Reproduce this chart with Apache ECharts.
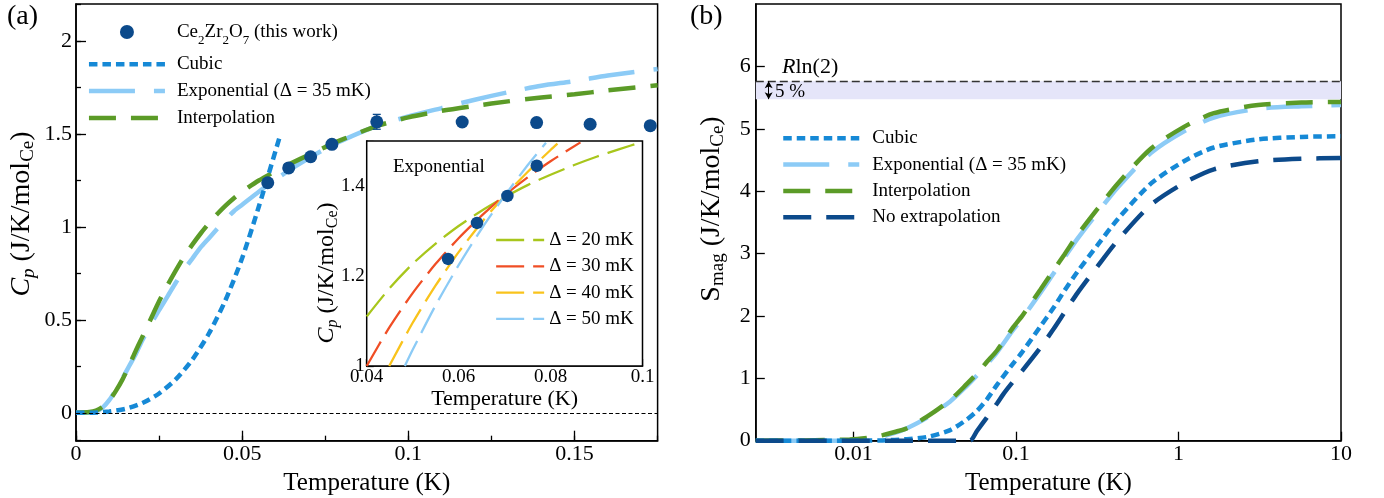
<!DOCTYPE html>
<html><head><meta charset="utf-8">
<script src="https://cdn.jsdelivr.net/npm/echarts@6/dist/echarts.min.js"></script>
<style>html,body{margin:0;padding:0;background:#fff}#c{width:1384px;height:498px}</style>
</head><body><div id="c"></div>
<script>
// ---------- Panel (a): measured heat capacity ----------
const dataT = [0.0577, 0.0640, 0.0706, 0.0770, 0.0905, 0.1162, 0.1386, 0.1547, 0.1728];
const dataC = [1.238, 1.318, 1.378, 1.445, 1.566, 1.565, 1.562, 1.553, 1.545];
const dataErr = [0.02, 0.02, 0.02, 0.02, 0.04, 0.02, 0.02, 0.02, 0.02];

// ---------- Panel (a): extrapolations ----------
const cubicT = [0, 0.005, 0.01, 0.015, 0.02, 0.025, 0.03, 0.035, 0.04, 0.045, 0.05, 0.055, 0.0612];
const cubicC = [0, 0.001, 0.007, 0.022, 0.053, 0.104, 0.18, 0.286, 0.427, 0.607, 0.833, 1.109, 1.48];

const curveT = [0, 0.004, 0.006, 0.008, 0.010, 0.012, 0.014, 0.016, 0.018, 0.020, 0.0225, 0.025, 0.0275, 0.030, 0.0325, 0.035, 0.0375, 0.040, 0.0425, 0.045, 0.0475, 0.050, 0.055, 0.060, 0.065, 0.070, 0.075, 0.080, 0.090, 0.100, 0.110, 0.120, 0.130, 0.140, 0.150, 0.160, 0.175];
const expC = [0, 0.0003, 0.007, 0.028, 0.068, 0.124, 0.186, 0.252, 0.317, 0.392, 0.475, 0.553, 0.625, 0.70, 0.77, 0.83, 0.89, 0.94, 0.99, 1.04, 1.085, 1.12, 1.19, 1.255, 1.315, 1.37, 1.42, 1.465, 1.54, 1.595, 1.64, 1.685, 1.725, 1.76, 1.785, 1.815, 1.85];
const interpC = [0, 0.004, 0.012, 0.032, 0.065, 0.118, 0.18, 0.255, 0.335, 0.41, 0.505, 0.60, 0.685, 0.765, 0.84, 0.905, 0.965, 1.02, 1.07, 1.115, 1.155, 1.19, 1.25, 1.30, 1.345, 1.388, 1.43, 1.47, 1.54, 1.59, 1.625, 1.652, 1.676, 1.697, 1.714, 1.735, 1.763];

// ---------- Inset: exponential fits ----------
const t20 = [0.040, 0.045, 0.050, 0.055, 0.060, 0.065, 0.070, 0.075, 0.080, 0.085, 0.090, 0.095, 0.100];
const c20 = [1.110, 1.173, 1.227, 1.272, 1.311, 1.345, 1.375, 1.402, 1.425, 1.446, 1.465, 1.482, 1.498];
const t30 = [0.040, 0.045, 0.050, 0.055, 0.060, 0.065, 0.070, 0.075, 0.080, 0.0865];
const c30 = [1.000, 1.087, 1.162, 1.227, 1.284, 1.334, 1.379, 1.419, 1.455, 1.497];
const t40 = [0.0449, 0.050, 0.055, 0.060, 0.065, 0.070, 0.075, 0.080, 0.0815];
const c40 = [1.000, 1.096, 1.179, 1.253, 1.319, 1.378, 1.431, 1.480, 1.494];
const t50 = [0.0483, 0.050, 0.055, 0.060, 0.065, 0.070, 0.075, 0.0790];
const c50 = [1.000, 1.036, 1.135, 1.224, 1.305, 1.378, 1.446, 1.496];

// ---------- Panel (b): magnetic entropy ----------
const bT = [0.0025, 0.005, 0.00946, 0.0126, 0.0151, 0.0179, 0.0213, 0.0283, 0.0393, 0.0498, 0.0576, 0.066, 0.0765, 0.0961, 0.109, 0.141, 0.170, 0.199, 0.239, 0.318, 0.422, 0.675, 1.08, 1.65, 3.09, 5.70, 10];
const bInterp = [0, 0.005, 0.02, 0.05, 0.09, 0.14, 0.2, 0.385, 0.65, 0.91, 1.08, 1.26, 1.45, 1.82, 2.0, 2.42, 2.73, 2.99, 3.3, 3.72, 4.12, 4.68, 5.03, 5.25, 5.38, 5.42, 5.43];
const bExp = [0, 0, 0.005, 0.03, 0.07, 0.125, 0.2, 0.37, 0.63, 0.88, 1.05, 1.22, 1.42, 1.78, 1.96, 2.37, 2.68, 2.94, 3.24, 3.66, 4.06, 4.61, 4.96, 5.18, 5.32, 5.36, 5.38];
const bCubic = [0, 0, 0, 0.002, 0.005, 0.012, 0.025, 0.06, 0.17, 0.34, 0.48, 0.66, 0.9, 1.24, 1.42, 1.83, 2.13, 2.41, 2.71, 3.14, 3.55, 4.12, 4.48, 4.70, 4.83, 4.87, 4.88];
const noExtT = [0.0025, 0.045, 0.052, 0.0576, 0.066, 0.0765, 0.0837, 0.0961, 0.109, 0.141, 0.170, 0.199, 0.239, 0.318, 0.422, 0.675, 1.08, 1.65, 3.09, 5.70, 10];
const noExtS = [0, 0, 0, 0.16, 0.37, 0.6, 0.75, 0.95, 1.12, 1.49, 1.79, 2.06, 2.37, 2.8, 3.21, 3.78, 4.13, 4.35, 4.48, 4.52, 4.53];
const RLN2 = 5.763, RLN2_95 = 5.475, ARROW_T = 0.003;

// ---------- tick / label settings ----------
const xTicksA = {min: 0, max: 0.175, major: 0.05, minor: 0.025};
const yTicksA = {min: -0.15, max: 2.2, major: 0.5, minor: 0.25};
const xTicksInset = {min: 0.04, max: 0.1, step: 0.01};
const yTicksInset = {min: 1, max: 1.5, step: 0.1};
const xTicksB = {min: 0.0025, max: 10};
const yTicksB = {min: 0, max: 7, step: 1};

const FF = '"Liberation Serif", "Times New Roman", serif';
const C_BLUE = '#1689d6', C_LIGHT = '#8ccbf6', C_GREEN = '#5b9b27', C_DARK = '#0c4a8b';
const C_D20 = '#a8c61c', C_D30 = '#f04e25', C_D40 = '#f9c31c', C_D50 = '#8ccbf6';
const pairs = (xs, ys) => xs.map((x, i) => [x, ys[i]]);

const BLK = '#000';
function baseAxis(o) {
  return Object.assign({
    type: 'value',
    axisLine: {show: true, onZero: false, lineStyle: {color: BLK, width: 1.5}},
    axisTick: {show: true, inside: true, length: 9, lineStyle: {color: BLK, width: 1.3}},
    axisLabel: {color: BLK, fontFamily: FF, fontSize: 22},
    splitLine: {show: false}
  }, o);
}
function minorAxis(o) {
  return Object.assign({
    type: 'value',
    axisLine: {show: false, onZero: false},
    axisTick: {show: true, inside: true, length: 5, lineStyle: {color: BLK, width: 1.3}},
    axisLabel: {show: false},
    splitLine: {show: false}
  }, o);
}
const richTokens = (size) => ({
  i: {fontFamily: FF, fontSize: size, fontStyle: 'italic', lineHeight: size + 4, fill: BLK},
  n: {fontFamily: FF, fontSize: size, lineHeight: size + 4, fill: BLK},
  si: {fontFamily: FF, fontSize: Math.round(size * 0.68), fontStyle: 'italic', lineHeight: Math.round(size * 0.62), verticalAlign: 'bottom', fill: BLK},
  s: {fontFamily: FF, fontSize: Math.round(size * 0.68), lineHeight: Math.round(size * 0.62), verticalAlign: 'bottom', fill: BLK}
});
const yTitle = (text, x, y, size) => ({
  type: 'text', x, y, rotation: Math.PI / 2, z: 100,
  style: {text, fontFamily: FF, fontSize: size, fill: BLK, align: 'center', verticalAlign: 'middle', rich: richTokens(size)}
});

const lineSeries = (name, xi, yi, data, color, width, dash, z) => ({
  name, type: 'line', xAxisIndex: xi, yAxisIndex: yi, data,
  symbol: 'none', showSymbol: false, smooth: 0.25, z: z || 2,
  lineStyle: {color, width, type: dash, cap: 'butt'}, itemStyle: {color},
  emphasis: {disabled: true}
});
const noSym = {opacity: 0};

const option = {
  animation: false,
  backgroundColor: '#fff',
  grid: [
    {left: 76, top: 4, width: 581.6, height: 436.7, show: true, borderColor: BLK, borderWidth: 1.5, backgroundColor: 'transparent', containLabel: false, outerBoundsMode: 'none'},
    {left: 366.7, top: 141, width: 275.8, height: 225, show: true, borderColor: BLK, borderWidth: 1.5, backgroundColor: '#fff', containLabel: false, outerBoundsMode: 'none', z: 3},
    {left: 755.8, top: 4, width: 585.2, height: 436.7, show: true, borderColor: BLK, borderWidth: 1.5, backgroundColor: 'transparent', containLabel: false, outerBoundsMode: 'none'}
  ],
  xAxis: [
    baseAxis({gridIndex: 0, position: 'bottom', min: xTicksA.min, max: xTicksA.max, interval: xTicksA.major,
      axisTick: {show: true, inside: true, length: 10, lineStyle: {color: BLK, width: 1.3}},
      axisLabel: {color: BLK, fontFamily: FF, fontSize: 22, margin: 3, showMaxLabel: false},
      name: 'Temperature (K)', nameLocation: 'middle', nameGap: 23,
      nameTextStyle: {fontFamily: FF, fontSize: 25, color: BLK, verticalAlign: 'top'}}),
    minorAxis({gridIndex: 0, position: 'bottom', min: xTicksA.min, max: xTicksA.max, interval: xTicksA.minor}),
    baseAxis({gridIndex: 1, position: 'bottom', min: xTicksInset.min, max: xTicksInset.max, interval: xTicksInset.step,
      axisTick: {show: true, inside: true, length: 7, lineStyle: {color: BLK, width: 1.3}},
      axisLabel: {color: BLK, fontFamily: FF, fontSize: 19, margin: 2,
        formatter: v => (Math.round(v * 100) % 2 === 0 ? String(+v.toFixed(2)) : '')},
      name: 'Temperature (K)', nameLocation: 'middle', nameGap: 17,
      nameTextStyle: {fontFamily: FF, fontSize: 22, color: BLK, verticalAlign: 'top'}}),
    baseAxis({gridIndex: 2, type: 'log', logBase: 10, position: 'bottom', min: xTicksB.min, max: xTicksB.max,
      axisLabel: {color: BLK, fontFamily: FF, fontSize: 22, margin: 3, showMinLabel: false},
      name: 'Temperature (K)', nameLocation: 'middle', nameGap: 23,
      nameTextStyle: {fontFamily: FF, fontSize: 25, color: BLK, verticalAlign: 'top'}})
  ],
  yAxis: [
    baseAxis({gridIndex: 0, position: 'left', min: yTicksA.min, max: yTicksA.max, minInterval: yTicksA.major, maxInterval: yTicksA.major,
      axisTick: {show: true, inside: true, length: 10, lineStyle: {color: BLK, width: 1.3}},
      axisLabel: {color: BLK, fontFamily: FF, fontSize: 22, margin: 4, showMinLabel: false, showMaxLabel: false}}),
    minorAxis({gridIndex: 0, position: 'left', min: yTicksA.min, max: yTicksA.max, minInterval: yTicksA.minor, maxInterval: yTicksA.minor}),
    baseAxis({gridIndex: 1, position: 'left', min: yTicksInset.min, max: yTicksInset.max, interval: yTicksInset.step,
      axisTick: {show: true, inside: true, length: 7, lineStyle: {color: BLK, width: 1.3}},
      axisLabel: {color: BLK, fontFamily: FF, fontSize: 19, margin: 2,
        formatter: v => (Math.round(v * 10) % 2 === 0 ? String(+v.toFixed(1)) : '')}}),
    baseAxis({gridIndex: 2, position: 'left', min: yTicksB.min, max: yTicksB.max, interval: yTicksB.step,
      axisLabel: {color: BLK, fontFamily: FF, fontSize: 22, margin: 5, showMaxLabel: false}})
  ],
  legend: [
    {left: 86.7, top: 17, orient: 'vertical', padding: 0, itemWidth: 76, itemHeight: 14, itemGap: 7.8, selectedMode: false,
      data: [{name: 'Ce2Zr2O7 (this work)'}, {name: 'Cubic', itemStyle: noSym}, {name: 'Exponential (Δ = 35 mK)', itemStyle: noSym}, {name: 'Interpolation', itemStyle: noSym}],
      lineStyle: {width: 'inherit'},
      formatter: n => n === 'Ce2Zr2O7 (this work)' ? '{n|Ce}{s|2}{n|Zr}{s|2}{n|O}{s|7}{n| (this work)}' : n,
      textStyle: {fontFamily: FF, fontSize: 19, lineHeight: 19, color: BLK, padding: [0, 0, 0, 7],
        rich: {n: {fontFamily: FF, fontSize: 19, lineHeight: 30, color: BLK}, s: {fontFamily: FF, fontSize: 13, lineHeight: 14, verticalAlign: 'bottom', color: BLK}}}},
    {left: 495, top: 230.5, orient: 'vertical', padding: 0, itemWidth: 48, itemHeight: 10, itemGap: 7.3, selectedMode: false,
      data: [{name: 'Δ = 20 mK', itemStyle: noSym}, {name: 'Δ = 30 mK', itemStyle: noSym}, {name: 'Δ = 40 mK', itemStyle: noSym}, {name: 'Δ = 50 mK', itemStyle: noSym}],
      lineStyle: {width: 'inherit'},
      textStyle: {fontFamily: FF, fontSize: 19, lineHeight: 19, color: BLK}},
    {left: 781, top: 128.8, orient: 'vertical', padding: 0, itemWidth: 76, itemHeight: 14, itemGap: 7.3, selectedMode: false,
      data: [{name: 'Cubic', itemStyle: noSym}, {name: 'Exponential (Δ = 35 mK)', itemStyle: noSym}, {name: 'Interpolation', itemStyle: noSym}, {name: 'No extrapolation', itemStyle: noSym}],
      lineStyle: {width: 'inherit'},
      textStyle: {fontFamily: FF, fontSize: 19, lineHeight: 19, color: BLK, padding: [0, 0, 0, 8]}}
  ],
  graphic: [
    {type: 'text', left: 7, top: 3, z: 100, style: {text: '(a)', fontFamily: FF, fontSize: 28, fill: BLK}},
    {type: 'text', left: 690, top: 3, z: 100, style: {text: '(b)', fontFamily: FF, fontSize: 28, fill: BLK}},
    {type: 'text', left: 393, top: 158, z: 100, style: {text: 'Exponential', fontFamily: FF, fontSize: 19, fill: BLK}},
    {type: 'text', left: 782, top: 56, z: 100, style: {text: '{i|R}{n|ln(2)}', fontFamily: FF, fontSize: 22, fill: BLK,
      rich: {i: {fontFamily: FF, fontSize: 22, fontStyle: 'italic', fill: BLK}, n: {fontFamily: FF, fontSize: 22, fill: BLK}}}},
    {type: 'text', left: 775, top: 83, z: 100, style: {text: '5 %', fontFamily: FF, fontSize: 19, fill: BLK}},
    yTitle('{i|C}{si|p}{n| (J/K/mol}{s|Ce}{n|)}', 22, 214, 28),
    yTitle('{n|S}{s|mag}{n| (J/K/mol}{s|Ce}{n|)}', 712, 209, 28),
    yTitle('{i|C}{si|p}{n| (J/K/mol}{s|Ce}{n|)}', 327, 273, 24)
  ],
  series: [
    // ---- panel (a) ----
    lineSeries('Exponential (Δ = 35 mK)', 0, 0, pairs(curveT, expC), C_LIGHT, 4.5, [46, 19], 2),
    lineSeries('Interpolation', 0, 0, pairs(curveT, interpC), C_GREEN, 4.5, [27, 15], 3),
    lineSeries('Cubic', 0, 0, pairs(cubicT, cubicC), C_BLUE, 4.5, [8.5, 5], 4),
    {
      name: 'errors', type: 'custom', xAxisIndex: 0, yAxisIndex: 0, z: 5,
      data: dataT.map((t, i) => [t, dataC[i], dataErr[i]]),
      encode: {x: 0, y: 1},
      renderItem: (params, api) => {
        const x = api.value(0), y = api.value(1), e = api.value(2);
        const a = api.coord([x, y + e]), b = api.coord([x, y - e]);
        const st = {stroke: C_DARK, lineWidth: 1.3};
        return {type: 'group', children: [
          {type: 'line', shape: {x1: a[0], y1: a[1], x2: b[0], y2: b[1]}, style: st},
          {type: 'line', shape: {x1: a[0] - 4, y1: a[1], x2: a[0] + 4, y2: a[1]}, style: st},
          {type: 'line', shape: {x1: b[0] - 4, y1: b[1], x2: b[0] + 4, y2: b[1]}, style: st}
        ]};
      }
    },
    {
      name: 'Ce2Zr2O7 (this work)', type: 'scatter', xAxisIndex: 0, yAxisIndex: 0, z: 6,
      data: pairs(dataT, dataC), symbol: 'circle', symbolSize: 13,
      itemStyle: {color: C_DARK, opacity: 1}, emphasis: {disabled: true},
      markLine: {silent: true, symbol: 'none', label: {show: false},
        lineStyle: {color: BLK, width: 1, type: [4, 2.5]},
        data: [{yAxis: 0}]}
    },
    // ---- inset ----
    lineSeries('Δ = 20 mK', 2, 2, pairs(t20, c20), C_D20, 2.3, [28, 9], 5),
    lineSeries('Δ = 30 mK', 2, 2, pairs(t30, c30), C_D30, 2.3, [28, 9], 5),
    lineSeries('Δ = 40 mK', 2, 2, pairs(t40, c40), C_D40, 2.3, [28, 9], 5),
    lineSeries('Δ = 50 mK', 2, 2, pairs(t50, c50), C_D50, 2.3, [28, 9], 5),
    {
      name: 'inset data', type: 'scatter', xAxisIndex: 2, yAxisIndex: 2, z: 6,
      data: pairs(dataT, dataC), symbol: 'circle', symbolSize: 12.5,
      itemStyle: {color: C_DARK, opacity: 1}, emphasis: {disabled: true}
    },
    // ---- panel (b) ----
    Object.assign(lineSeries('Exponential (Δ = 35 mK)', 3, 3, pairs(bT, bExp), C_LIGHT, 4.5, [46, 19], 2), {
      markArea: {silent: true, itemStyle: {color: '#e5e5f9', opacity: 1}, data: [[{yAxis: RLN2_95}, {yAxis: RLN2}]]},
      markLine: {silent: true, symbol: 'none', label: {show: false}, precision: 4,
        data: [
          {yAxis: RLN2, lineStyle: {color: '#333', width: 1.3, type: [8, 4]}},
          [{coord: [ARROW_T, RLN2], symbol: 'arrow', symbolSize: [6, 7], lineStyle: {color: BLK, width: 1, type: 'solid'}},
           {coord: [ARROW_T, RLN2_95], symbol: 'arrow', symbolSize: [6, 7]}]
        ]}
    }),
    lineSeries('Interpolation', 3, 3, pairs(bT, bInterp), C_GREEN, 4.5, [27, 15], 3),
    lineSeries('Cubic', 3, 3, pairs(bT, bCubic), C_BLUE, 4.5, [8.5, 5], 4),
    lineSeries('No extrapolation', 3, 3, pairs(noExtT, noExtS), C_DARK, 4.5, [28, 15], 4)
  ]
};

const chart = echarts.init(document.getElementById('c'), null, {renderer: 'canvas'});
chart.setOption(option);
</script>
</body></html>
